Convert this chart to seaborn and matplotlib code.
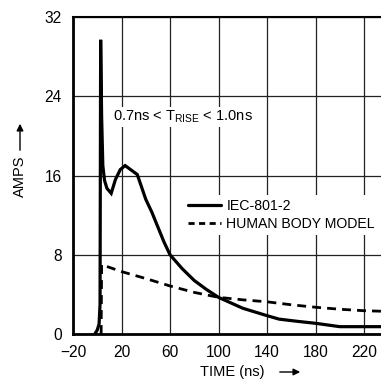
import numpy as np
import pandas as pd
import seaborn as sns
import matplotlib.pyplot as plt
from matplotlib.lines import Line2D

# IEC-801-2 current waveform (ns, A)
iec_t = [-2, 0, 1.5, 2.3, 2.8, 3.6, 4.6, 6.0, 8.0, 11.5, 15, 19, 23, 33, 40, 45, 50, 55, 60,
         70, 80, 90, 100, 120, 140, 150, 165, 180, 200, 234]
iec_a = [0, 0.4, 1.0, 3.0, 29.7, 22.0, 17.0, 15.5, 14.7, 14.2, 15.6, 16.6, 17.0, 16.1, 13.6,
         12.3, 10.8, 9.3, 8.0, 6.6, 5.4, 4.5, 3.7, 2.6, 1.85, 1.5, 1.28, 1.08, 0.74, 0.74]

# human body model waveform
hbm_t = [3.2, 3.6, 20, 40, 60, 80, 100, 120, 140, 160, 180, 200, 220, 234]
hbm_a = [0, 7.0, 6.3, 5.6, 4.85, 4.2, 3.7, 3.45, 3.25, 2.95, 2.7, 2.5, 2.35, 2.3]

xticks = [-20, 20, 60, 100, 140, 180, 220]
yticks = [0, 8, 16, 24, 32]

df_iec = pd.DataFrame({"t": iec_t, "a": iec_a})
df_hbm = pd.DataFrame({"t": hbm_t, "a": hbm_a})

sns.set_style("white")
plt.rcParams['font.family'] = ['Liberation Sans', 'DejaVu Sans']
plt.rcParams['text.color'] = 'black'
plt.rcParams['xtick.color'] = 'black'
plt.rcParams['ytick.color'] = 'black'
fs = 10.5

fig = plt.figure(figsize=(3.81, 3.81), dpi=100)
ax = fig.add_axes([73 / 381, 47 / 381, 1 - 73 / 381, 317 / 381])

sns.lineplot(data=df_iec, x="t", y="a", ax=ax, color="black", lw=2.3, sort=False,
             solid_joinstyle="miter", zorder=3)
sns.lineplot(data=df_hbm, x="t", y="a", ax=ax, color="black", lw=2.0, sort=False,
             dashes=False, linestyle=(0, (3.2, 2.2)), zorder=3)

ax.set_xlim(-20, 234)
ax.set_ylim(0, 32)
ax.set_xticks(xticks)
ax.set_yticks(yticks)
ax.tick_params(labelsize=11.2, length=0, pad=8)
ax.grid(True, color="#222222", lw=0.9)
for s in ["left", "bottom"]:
    ax.spines[s].set_linewidth(2.0)
ax.spines["top"].set_linewidth(1.5)
ax.spines["right"].set_visible(False)
for s in ax.spines.values():
    s.set_color("black")
ax.set_xlabel("")
ax.set_ylabel("")

ax.text(13, 21.9, r"0.7ns < T$_{\mathregular{RISE}}$ < 1.0ns", fontsize=fs,
        va="center", ha="left", bbox=dict(fc="white", ec="none", pad=1.5), zorder=4)

handles = [Line2D([], [], color="black", lw=2.3),
           Line2D([], [], color="black", lw=2.0, linestyle=(0, (2.2, 1.6)))]
ax.legend(handles, ["IEC-801-2", "HUMAN BODY MODEL"], loc="upper left",
          bbox_to_anchor=(0.36, 0.44), fontsize=10.2, frameon=True, framealpha=1,
          edgecolor="none", fancybox=False, handlelength=2.3, handletextpad=0.4,
          labelspacing=0.3, borderpad=0.3, borderaxespad=0)

# axis labels with arrows
fig.text(200 / 381, 1 - 372 / 381, "TIME (ns)", fontsize=fs, va="center", ha="left")
ax.annotate("", xy=(303 / 381, 1 - 372 / 381), xytext=(277 / 381, 1 - 372 / 381),
            xycoords="figure fraction", textcoords="figure fraction",
            arrowprops=dict(arrowstyle="-|>", color="black", lw=1.0, mutation_scale=10))
fig.text(20 / 381, 1 - 176 / 381, "AMPS", fontsize=fs, rotation=90, va="center", ha="center")
ax.annotate("", xy=(20 / 381, 1 - 121 / 381), xytext=(20 / 381, 1 - 153 / 381),
            xycoords="figure fraction", textcoords="figure fraction",
            arrowprops=dict(arrowstyle="-|>", color="black", lw=1.0, mutation_scale=10))

fig.savefig("out.png", dpi=100)
